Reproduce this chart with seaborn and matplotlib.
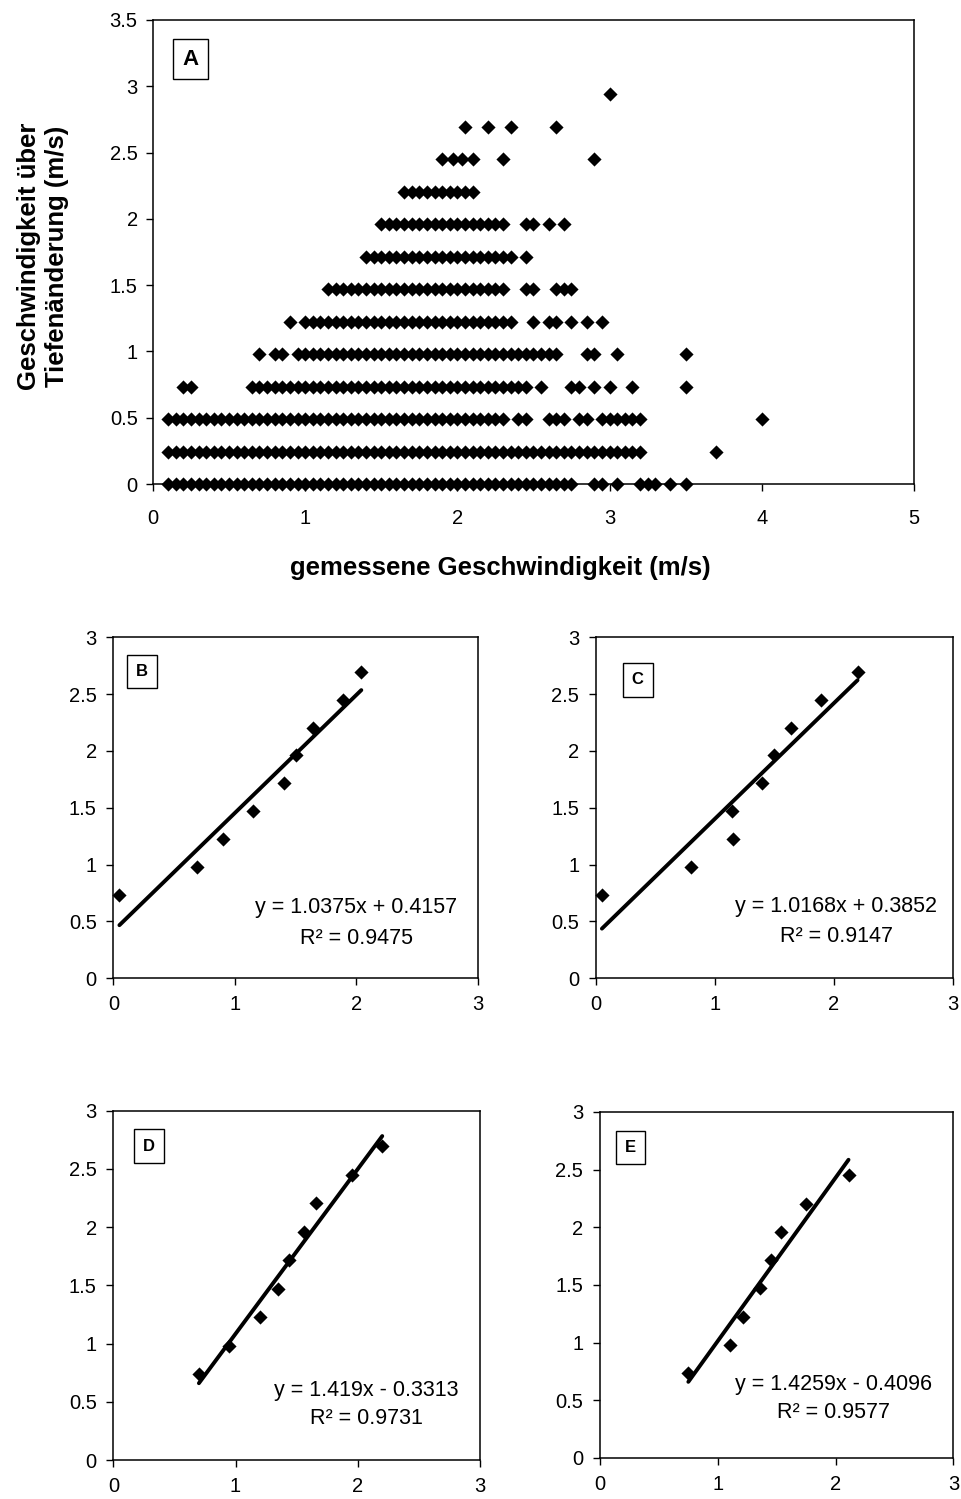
import numpy as np
import pandas as pd
import matplotlib
matplotlib.use('Agg')
import matplotlib.pyplot as plt
import seaborn as sns
from matplotlib.ticker import FuncFormatter, MultipleLocator

# Panel A: Geschwindigkeit ueber Tiefenaenderung (Stufen) vs. gemessene Geschwindigkeit
stufen = [0.0, 0.245, 0.49, 0.735, 0.98, 1.225, 1.47, 1.715, 1.96, 2.205, 2.45, 2.695, 2.94]

row_0 = [0.10, 0.15, 0.20, 0.25, 0.30, 0.35, 0.40, 0.45, 0.50, 0.55, 0.60, 0.65, 0.70, 0.75,
         0.80, 0.85, 0.90, 0.95, 1.00, 1.05, 1.10, 1.15, 1.20, 1.25, 1.30, 1.35, 1.40, 1.45,
         1.50, 1.55, 1.60, 1.65, 1.70, 1.75, 1.80, 1.85, 1.90, 1.95, 2.00, 2.05, 2.10, 2.15,
         2.20, 2.25, 2.30, 2.35, 2.40, 2.45, 2.50, 2.55, 2.60, 2.65, 2.70, 2.75,
         2.90, 2.95, 3.05, 3.20, 3.25, 3.30, 3.40, 3.50]
row_1 = [0.10, 0.15, 0.20, 0.25, 0.30, 0.35, 0.40, 0.45, 0.50, 0.55, 0.60, 0.65, 0.70, 0.75,
         0.80, 0.85, 0.90, 0.95, 1.00, 1.05, 1.10, 1.15, 1.20, 1.25, 1.30, 1.35, 1.40, 1.45,
         1.50, 1.55, 1.60, 1.65, 1.70, 1.75, 1.80, 1.85, 1.90, 1.95, 2.00, 2.05, 2.10, 2.15,
         2.20, 2.25, 2.30, 2.35, 2.40, 2.45, 2.50, 2.55, 2.60, 2.65, 2.70, 2.75, 2.80, 2.85,
         2.90, 2.95, 3.00, 3.05, 3.10, 3.15, 3.20, 3.70]
row_2 = [0.10, 0.15, 0.20, 0.25, 0.30, 0.35, 0.40, 0.45, 0.50, 0.55, 0.60, 0.65, 0.70, 0.75,
         0.80, 0.85, 0.90, 0.95, 1.00, 1.05, 1.10, 1.15, 1.20, 1.25, 1.30, 1.35, 1.40, 1.45,
         1.50, 1.55, 1.60, 1.65, 1.70, 1.75, 1.80, 1.85, 1.90, 1.95, 2.00, 2.05, 2.10, 2.15,
         2.20, 2.25, 2.30, 2.40, 2.45, 2.60, 2.65, 2.70, 2.80, 2.85, 2.95, 3.00, 3.05, 3.10,
         3.15, 3.20, 4.00]
row_3 = [0.20, 0.25, 0.65, 0.70, 0.75, 0.80, 0.85, 0.90, 0.95, 1.00, 1.05, 1.10, 1.15, 1.20,
         1.25, 1.30, 1.35, 1.40, 1.45, 1.50, 1.55, 1.60, 1.65, 1.70, 1.75, 1.80, 1.85, 1.90,
         1.95, 2.00, 2.05, 2.10, 2.15, 2.20, 2.25, 2.30, 2.35, 2.40, 2.45, 2.55, 2.75, 2.80,
         2.90, 3.00, 3.15, 3.50]
row_4 = [0.70, 0.80, 0.85, 0.95, 1.00, 1.05, 1.10, 1.15, 1.20, 1.25, 1.30, 1.35, 1.40, 1.45,
         1.50, 1.55, 1.60, 1.65, 1.70, 1.75, 1.80, 1.85, 1.90, 1.95, 2.00, 2.05, 2.10, 2.15,
         2.20, 2.25, 2.30, 2.35, 2.40, 2.45, 2.50, 2.55, 2.60, 2.65, 2.85, 2.90, 3.05, 3.50]
row_5 = [0.90, 1.00, 1.05, 1.10, 1.15, 1.20, 1.25, 1.30, 1.35, 1.40, 1.45, 1.50, 1.55, 1.60,
         1.65, 1.70, 1.75, 1.80, 1.85, 1.90, 1.95, 2.00, 2.05, 2.10, 2.15, 2.20, 2.25, 2.30,
         2.35, 2.50, 2.60, 2.65, 2.75, 2.85, 2.95]
row_6 = [1.15, 1.20, 1.25, 1.30, 1.35, 1.40, 1.45, 1.50, 1.55, 1.60, 1.65, 1.70, 1.75, 1.80,
         1.85, 1.90, 1.95, 2.00, 2.05, 2.10, 2.15, 2.20, 2.25, 2.30, 2.45, 2.50, 2.65, 2.70, 2.75]
row_7 = [1.40, 1.45, 1.50, 1.55, 1.60, 1.65, 1.70, 1.75, 1.80, 1.85, 1.90, 1.95, 2.00, 2.05,
         2.10, 2.15, 2.20, 2.25, 2.30, 2.35, 2.45]
row_8 = [1.50, 1.55, 1.60, 1.65, 1.70, 1.75, 1.80, 1.85, 1.90, 1.95, 2.00, 2.05, 2.10, 2.15,
         2.20, 2.25, 2.30, 2.45, 2.50, 2.60, 2.70]
row_9 = [1.65, 1.70, 1.75, 1.80, 1.85, 1.90, 1.95, 2.00, 2.05, 2.10]
row_10 = [1.90, 1.97, 2.03, 2.10, 2.30, 2.90]
row_11 = [2.05, 2.20, 2.35, 2.65]
row_12 = [3.00]

# Panels B-E: Mittelwerte je Stufe
b_x = [0.05, 0.69, 0.90, 1.15, 1.40, 1.50, 1.64, 1.89, 2.04]
b_y = [0.735, 0.98, 1.225, 1.47, 1.715, 1.96, 2.205, 2.45, 2.695]
c_x = [0.05, 0.80, 1.14, 1.15, 1.40, 1.50, 1.64, 1.89, 2.20]
c_y = [0.735, 0.98, 1.47, 1.225, 1.715, 1.96, 2.205, 2.45, 2.695]
d_x = [0.70, 0.95, 1.20, 1.35, 1.44, 1.56, 1.66, 1.95, 2.20]
d_y = [0.735, 0.98, 1.225, 1.47, 1.715, 1.96, 2.205, 2.45, 2.695]
e_x = [0.75, 1.10, 1.21, 1.36, 1.45, 1.54, 1.75, 2.11]
e_y = [0.735, 0.98, 1.225, 1.47, 1.715, 1.96, 2.205, 2.45]

panel_names = ['B', 'C', 'D', 'E']
gleichungen = ['y = 1.0375x + 0.4157', 'y = 1.0168x + 0.3852',
               'y = 1.419x - 0.3313', 'y = 1.4259x - 0.4096']
r2_texte = ['R² = 0.9475', 'R² = 0.9147', 'R² = 0.9731', 'R² = 0.9577']

rows = [row_0, row_1, row_2, row_3, row_4, row_5, row_6, row_7, row_8,
        row_9, row_10, row_11, row_12]
df_a = pd.DataFrame({
    'gemessen': np.concatenate(rows),
    'tiefe': np.repeat(stufen, [len(r) for r in rows]),
})

sns.set_theme(style='ticks')
plt.rcParams['font.family'] = ['Liberation Sans', 'DejaVu Sans']
plt.rcParams.update({
    'text.color': 'black',
    'axes.labelcolor': 'black',
    'axes.edgecolor': 'black',
    'axes.linewidth': 1.1,
    'xtick.color': 'black',
    'ytick.color': 'black',
    'xtick.labelcolor': 'black',
    'ytick.labelcolor': 'black',
    'xtick.direction': 'out',
    'ytick.direction': 'out',
    'xtick.major.width': 1.0,
    'ytick.major.width': 1.0,
})

fmt = FuncFormatter(lambda v, _: f'{v:g}')
MS = 52

fig = plt.figure(figsize=(9.62, 14.99), dpi=100)

# --- Panel A ---
ax_a = fig.add_axes([0.159, 0.6771, 0.791, 0.3096])
sns.scatterplot(data=df_a, x='gemessen', y='tiefe', marker='D', s=MS, color='black',
                linewidth=0, alpha=1, clip_on=False, zorder=3, ax=ax_a)
ax_a.set_xlim(0, 5)
ax_a.set_ylim(0, 3.5)
ax_a.xaxis.set_major_locator(MultipleLocator(1))
ax_a.yaxis.set_major_locator(MultipleLocator(0.5))
ax_a.xaxis.set_major_formatter(fmt)
ax_a.yaxis.set_major_formatter(fmt)
ax_a.tick_params(axis='x', length=5, pad=13, labelsize=14.5)
ax_a.tick_params(axis='y', length=5, pad=6, labelsize=14.5)
ax_a.set_xlabel('')
ax_a.set_ylabel('')
ax_a.text(0.049, 0.915, 'A', transform=ax_a.transAxes, ha='center', va='center',
          fontsize=16, fontweight='bold',
          bbox=dict(boxstyle='square,pad=0.43', fc='white', ec='black', lw=1))

fig.text(0.0447, 0.829, 'Geschwindigkeit über\nTiefenänderung (m/s)', rotation=90,
         ha='center', va='center', multialignment='center', fontsize=18.5,
         fontweight='bold', linespacing=1.25)
fig.text(0.52, 0.621, 'gemessene Geschwindigkeit (m/s)', ha='center', va='center',
         fontsize=18.5, fontweight='bold')

# --- Panels B-E ---
rects = [[0.1178, 0.3474, 0.3791, 0.2275],
         [0.6195, 0.3474, 0.3708, 0.2275],
         [0.1178, 0.0260, 0.3812, 0.2330],
         [0.6237, 0.0274, 0.3673, 0.2308]]
daten = [(b_x, b_y), (c_x, c_y), (d_x, d_y), (e_x, e_y)]
box_pos = [(0.0795, 0.899), (0.117, 0.875), (0.0965, 0.899), (0.087, 0.898)]
eq_pos = [(2.0, 0.62, 0.35), (2.02, 0.63, 0.37), (2.07, 0.60, 0.36), (1.98, 0.64, 0.39)]

for rect, (xs, ys), name, eq, r2, bp, ep in zip(rects, daten, panel_names, gleichungen,
                                                r2_texte, box_pos, eq_pos):
    ax = fig.add_axes(rect)
    sns.regplot(x=xs, y=ys, ax=ax, ci=None, marker='D', color='black',
                scatter_kws={'s': MS, 'linewidths': 0, 'alpha': 1, 'clip_on': False,
                             'zorder': 3},
                line_kws={'lw': 2.8, 'solid_capstyle': 'round'})
    ax.set_xlim(0, 3)
    ax.set_ylim(0, 3)
    ax.xaxis.set_major_locator(MultipleLocator(1))
    ax.yaxis.set_major_locator(MultipleLocator(0.5))
    ax.xaxis.set_major_formatter(fmt)
    ax.yaxis.set_major_formatter(fmt)
    ax.tick_params(axis='x', length=5, pad=7, labelsize=14.5)
    ax.tick_params(axis='y', length=5, pad=7, labelsize=14.5)
    ax.set_xlabel('')
    ax.set_ylabel('')
    ax.text(bp[0], bp[1], name, transform=ax.transAxes, ha='center', va='center',
            fontsize=12, fontweight='bold',
            bbox=dict(boxstyle='square,pad=0.55', fc='white', ec='black', lw=1))
    ax.text(ep[0], ep[1], eq, ha='center', va='center', fontsize=15.5)
    ax.text(ep[0], ep[2], r2, ha='center', va='center', fontsize=15.5)

fig.savefig('out.png', dpi=100, facecolor='white')
